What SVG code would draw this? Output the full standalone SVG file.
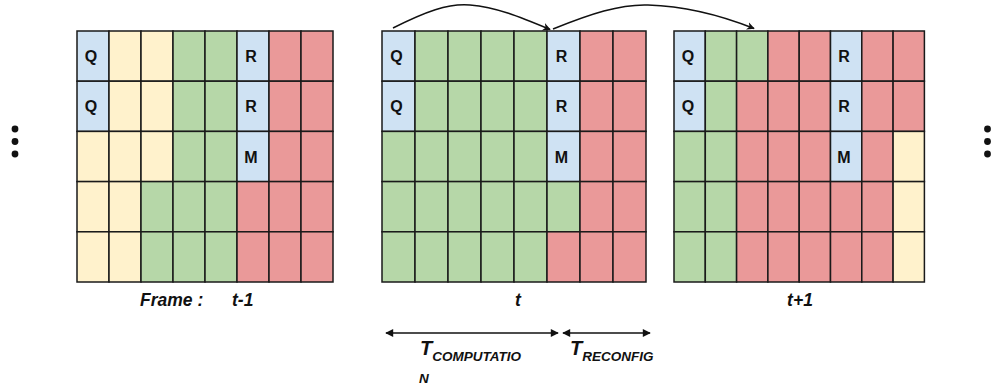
<svg xmlns="http://www.w3.org/2000/svg" width="992" height="390" viewBox="0 0 992 390">
<style>
  .c{stroke:#1a1a1a;stroke-width:1.5}
  .b{fill:#cfe2f3}
  .y{fill:#fff2cc}
  .g{fill:#b6d7a8}
  .r{fill:#ea9999}
  .lt{font-family:"Liberation Sans",Arial,sans-serif;font-weight:bold;font-size:16px;fill:#111;text-anchor:middle}
  .lb{font-family:"Liberation Sans",Arial,sans-serif;font-weight:bold;font-style:italic;fill:#111}
  .ed{fill:none;stroke:#111;stroke-width:1.5}
</style>
<defs>
  <marker id="ah" viewBox="0 0 10 10" refX="9" refY="5" markerWidth="8" markerHeight="8" markerUnits="userSpaceOnUse" orient="auto">
    <path d="M0,0 L10,5 L0,10 L3,5 Z" fill="#111"/>
  </marker>
  <marker id="bh" viewBox="0 0 10 10" refX="9" refY="5" markerWidth="9" markerHeight="8" markerUnits="userSpaceOnUse" orient="auto-start-reverse">
    <path d="M0,0 L10,5 L0,10 Z" fill="#111"/>
  </marker>
</defs>
<rect width="992" height="390" fill="#fff"/>

<g id="dots-left" fill="#111">
  <circle cx="15" cy="129" r="3.4"/><circle cx="15" cy="141.5" r="3.4"/><circle cx="15" cy="154" r="3.4"/>
</g>
<g id="dots-right" fill="#111">
  <circle cx="987.5" cy="129" r="3.4"/><circle cx="987.5" cy="141.5" r="3.4"/><circle cx="987.5" cy="154" r="3.4"/>
</g>

<g id="frame-t-1">
  <rect class="c b" x="77" y="31" width="32" height="50.2"/>
  <rect class="c y" x="109" y="31" width="32" height="50.2"/>
  <rect class="c y" x="141" y="31" width="32" height="50.2"/>
  <rect class="c g" x="173" y="31" width="32" height="50.2"/>
  <rect class="c g" x="205" y="31" width="32" height="50.2"/>
  <rect class="c b" x="237" y="31" width="32" height="50.2"/>
  <rect class="c r" x="269" y="31" width="32" height="50.2"/>
  <rect class="c r" x="301" y="31" width="32" height="50.2"/>

  <rect class="c b" x="77" y="81.2" width="32" height="50.2"/>
  <rect class="c y" x="109" y="81.2" width="32" height="50.2"/>
  <rect class="c y" x="141" y="81.2" width="32" height="50.2"/>
  <rect class="c g" x="173" y="81.2" width="32" height="50.2"/>
  <rect class="c g" x="205" y="81.2" width="32" height="50.2"/>
  <rect class="c b" x="237" y="81.2" width="32" height="50.2"/>
  <rect class="c r" x="269" y="81.2" width="32" height="50.2"/>
  <rect class="c r" x="301" y="81.2" width="32" height="50.2"/>

  <rect class="c y" x="77" y="131.4" width="32" height="50.2"/>
  <rect class="c y" x="109" y="131.4" width="32" height="50.2"/>
  <rect class="c y" x="141" y="131.4" width="32" height="50.2"/>
  <rect class="c g" x="173" y="131.4" width="32" height="50.2"/>
  <rect class="c g" x="205" y="131.4" width="32" height="50.2"/>
  <rect class="c b" x="237" y="131.4" width="32" height="50.2"/>
  <rect class="c r" x="269" y="131.4" width="32" height="50.2"/>
  <rect class="c r" x="301" y="131.4" width="32" height="50.2"/>

  <rect class="c y" x="77" y="181.6" width="32" height="50.2"/>
  <rect class="c y" x="109" y="181.6" width="32" height="50.2"/>
  <rect class="c g" x="141" y="181.6" width="32" height="50.2"/>
  <rect class="c g" x="173" y="181.6" width="32" height="50.2"/>
  <rect class="c g" x="205" y="181.6" width="32" height="50.2"/>
  <rect class="c r" x="237" y="181.6" width="32" height="50.2"/>
  <rect class="c r" x="269" y="181.6" width="32" height="50.2"/>
  <rect class="c r" x="301" y="181.6" width="32" height="50.2"/>

  <rect class="c y" x="77" y="231.8" width="32" height="50.2"/>
  <rect class="c y" x="109" y="231.8" width="32" height="50.2"/>
  <rect class="c g" x="141" y="231.8" width="32" height="50.2"/>
  <rect class="c g" x="173" y="231.8" width="32" height="50.2"/>
  <rect class="c g" x="205" y="231.8" width="32" height="50.2"/>
  <rect class="c r" x="237" y="231.8" width="32" height="50.2"/>
  <rect class="c r" x="269" y="231.8" width="32" height="50.2"/>
  <rect class="c r" x="301" y="231.8" width="32" height="50.2"/>

  <text class="lt" x="91" y="62">Q</text>
  <text class="lt" x="91" y="112.3">Q</text>
  <text class="lt" x="251" y="62">R</text>
  <text class="lt" x="251" y="112.3">R</text>
  <text class="lt" x="251" y="162.5">M</text>
</g>

<g id="frame-t">
  <rect class="c b" x="382" y="31" width="33" height="50.2"/>
  <rect class="c g" x="415" y="31" width="33" height="50.2"/>
  <rect class="c g" x="448" y="31" width="33" height="50.2"/>
  <rect class="c g" x="481" y="31" width="33" height="50.2"/>
  <rect class="c g" x="514" y="31" width="33" height="50.2"/>
  <rect class="c b" x="547" y="31" width="33" height="50.2"/>
  <rect class="c r" x="580" y="31" width="33" height="50.2"/>
  <rect class="c r" x="613" y="31" width="33" height="50.2"/>

  <rect class="c b" x="382" y="81.2" width="33" height="50.2"/>
  <rect class="c g" x="415" y="81.2" width="33" height="50.2"/>
  <rect class="c g" x="448" y="81.2" width="33" height="50.2"/>
  <rect class="c g" x="481" y="81.2" width="33" height="50.2"/>
  <rect class="c g" x="514" y="81.2" width="33" height="50.2"/>
  <rect class="c b" x="547" y="81.2" width="33" height="50.2"/>
  <rect class="c r" x="580" y="81.2" width="33" height="50.2"/>
  <rect class="c r" x="613" y="81.2" width="33" height="50.2"/>

  <rect class="c g" x="382" y="131.4" width="33" height="50.2"/>
  <rect class="c g" x="415" y="131.4" width="33" height="50.2"/>
  <rect class="c g" x="448" y="131.4" width="33" height="50.2"/>
  <rect class="c g" x="481" y="131.4" width="33" height="50.2"/>
  <rect class="c g" x="514" y="131.4" width="33" height="50.2"/>
  <rect class="c b" x="547" y="131.4" width="33" height="50.2"/>
  <rect class="c r" x="580" y="131.4" width="33" height="50.2"/>
  <rect class="c r" x="613" y="131.4" width="33" height="50.2"/>

  <rect class="c g" x="382" y="181.6" width="33" height="50.2"/>
  <rect class="c g" x="415" y="181.6" width="33" height="50.2"/>
  <rect class="c g" x="448" y="181.6" width="33" height="50.2"/>
  <rect class="c g" x="481" y="181.6" width="33" height="50.2"/>
  <rect class="c g" x="514" y="181.6" width="33" height="50.2"/>
  <rect class="c g" x="547" y="181.6" width="33" height="50.2"/>
  <rect class="c r" x="580" y="181.6" width="33" height="50.2"/>
  <rect class="c r" x="613" y="181.6" width="33" height="50.2"/>

  <rect class="c g" x="382" y="231.8" width="33" height="50.2"/>
  <rect class="c g" x="415" y="231.8" width="33" height="50.2"/>
  <rect class="c g" x="448" y="231.8" width="33" height="50.2"/>
  <rect class="c g" x="481" y="231.8" width="33" height="50.2"/>
  <rect class="c g" x="514" y="231.8" width="33" height="50.2"/>
  <rect class="c r" x="547" y="231.8" width="33" height="50.2"/>
  <rect class="c r" x="580" y="231.8" width="33" height="50.2"/>
  <rect class="c r" x="613" y="231.8" width="33" height="50.2"/>

  <text class="lt" x="396.5" y="62">Q</text>
  <text class="lt" x="396.5" y="112.3">Q</text>
  <text class="lt" x="561.5" y="62">R</text>
  <text class="lt" x="561.5" y="112.3">R</text>
  <text class="lt" x="561.5" y="162.5">M</text>
</g>

<g id="frame-t1">
  <rect class="c b" x="674" y="31" width="31.3" height="50.2"/>
  <rect class="c g" x="705.3" y="31" width="31.3" height="50.2"/>
  <rect class="c g" x="736.6" y="31" width="31.3" height="50.2"/>
  <rect class="c r" x="767.9" y="31" width="31.3" height="50.2"/>
  <rect class="c r" x="799.2" y="31" width="31.3" height="50.2"/>
  <rect class="c b" x="830.5" y="31" width="31.3" height="50.2"/>
  <rect class="c r" x="861.8" y="31" width="31.3" height="50.2"/>
  <rect class="c r" x="893.1" y="31" width="31.3" height="50.2"/>

  <rect class="c b" x="674" y="81.2" width="31.3" height="50.2"/>
  <rect class="c g" x="705.3" y="81.2" width="31.3" height="50.2"/>
  <rect class="c r" x="736.6" y="81.2" width="31.3" height="50.2"/>
  <rect class="c r" x="767.9" y="81.2" width="31.3" height="50.2"/>
  <rect class="c r" x="799.2" y="81.2" width="31.3" height="50.2"/>
  <rect class="c b" x="830.5" y="81.2" width="31.3" height="50.2"/>
  <rect class="c r" x="861.8" y="81.2" width="31.3" height="50.2"/>
  <rect class="c r" x="893.1" y="81.2" width="31.3" height="50.2"/>

  <rect class="c g" x="674" y="131.4" width="31.3" height="50.2"/>
  <rect class="c g" x="705.3" y="131.4" width="31.3" height="50.2"/>
  <rect class="c r" x="736.6" y="131.4" width="31.3" height="50.2"/>
  <rect class="c r" x="767.9" y="131.4" width="31.3" height="50.2"/>
  <rect class="c r" x="799.2" y="131.4" width="31.3" height="50.2"/>
  <rect class="c b" x="830.5" y="131.4" width="31.3" height="50.2"/>
  <rect class="c r" x="861.8" y="131.4" width="31.3" height="50.2"/>
  <rect class="c y" x="893.1" y="131.4" width="31.3" height="50.2"/>

  <rect class="c g" x="674" y="181.6" width="31.3" height="50.2"/>
  <rect class="c g" x="705.3" y="181.6" width="31.3" height="50.2"/>
  <rect class="c r" x="736.6" y="181.6" width="31.3" height="50.2"/>
  <rect class="c r" x="767.9" y="181.6" width="31.3" height="50.2"/>
  <rect class="c r" x="799.2" y="181.6" width="31.3" height="50.2"/>
  <rect class="c r" x="830.5" y="181.6" width="31.3" height="50.2"/>
  <rect class="c r" x="861.8" y="181.6" width="31.3" height="50.2"/>
  <rect class="c y" x="893.1" y="181.6" width="31.3" height="50.2"/>

  <rect class="c g" x="674" y="231.8" width="31.3" height="50.2"/>
  <rect class="c g" x="705.3" y="231.8" width="31.3" height="50.2"/>
  <rect class="c r" x="736.6" y="231.8" width="31.3" height="50.2"/>
  <rect class="c r" x="767.9" y="231.8" width="31.3" height="50.2"/>
  <rect class="c r" x="799.2" y="231.8" width="31.3" height="50.2"/>
  <rect class="c r" x="830.5" y="231.8" width="31.3" height="50.2"/>
  <rect class="c r" x="861.8" y="231.8" width="31.3" height="50.2"/>
  <rect class="c y" x="893.1" y="231.8" width="31.3" height="50.2"/>

  <text class="lt" x="688" y="62">Q</text>
  <text class="lt" x="688" y="112.3">Q</text>
  <text class="lt" x="844" y="62">R</text>
  <text class="lt" x="844" y="112.3">R</text>
  <text class="lt" x="844" y="162.5">M</text>
</g>

<g id="connectors">
  <path class="ed" d="M393,28 C425,12 448,3 470,5 C496,7 520,17 550,29.5" marker-end="url(#ah)"/>
  <path class="ed" d="M553,29 C590,14 620,4 648,5 C682,6 720,15 754,28.5" marker-end="url(#ah)"/>
  <line class="ed" x1="386" y1="333" x2="558" y2="333" marker-start="url(#bh)" marker-end="url(#bh)"/>
  <line class="ed" x1="563" y1="333" x2="650" y2="333" marker-start="url(#bh)" marker-end="url(#bh)"/>
</g>

<g id="labels">
  <text class="lb" x="140" y="306" font-size="17.5">Frame :</text>
  <text class="lb" x="232" y="306" font-size="17.5">t-1</text>
  <text class="lb" x="518" y="306" font-size="17.5" text-anchor="middle">t</text>
  <text class="lb" x="800" y="306" font-size="17.5" text-anchor="middle">t+1</text>
  <text class="lb" x="420" y="355" font-size="20">T<tspan font-size="13.5" dy="6">COMPUTATIO</tspan></text>
  <text class="lb" x="419" y="383" font-size="13.5">N</text>
  <text class="lb" x="570" y="355" font-size="20">T<tspan font-size="13.5" dy="6">RECONFIG</tspan></text>
</g>
</svg>
